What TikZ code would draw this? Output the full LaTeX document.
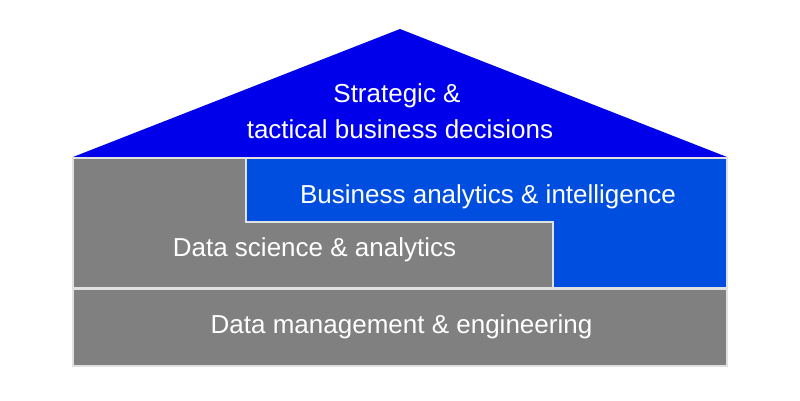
\documentclass[tikz,border=0pt]{standalone}
\usepackage{fontspec}
\setmainfont{Liberation Sans}
\definecolor{roofblue}{RGB}{0,0,235}
\definecolor{biblue}{RGB}{0,78,224}
\definecolor{slate}{RGB}{127,128,127}
\definecolor{edge}{RGB}{225,225,225}
\begin{document}
\begin{tikzpicture}[x=1pt,y=-1pt,
  part/.style={draw=edge,line width=1.5pt,line join=miter},
  lbl/.style={text=white,font=\fontsize{26}{36}\selectfont,anchor=base,inner sep=0pt}]
\useasboundingbox (0,0) rectangle (800,400);
% roof
\fill[roofblue] (73,157) -- (400,29) -- (727,157) -- cycle;
% data science (L shape)
\path[part,fill=slate] (73,158) -- (246,158) -- (246,222) -- (553,222) -- (553,288) -- (73,288) -- cycle;
% business analytics (L shape)
\path[part,fill=biblue] (246,158) -- (727,158) -- (727,288) -- (553,288) -- (553,222) -- (246,222) -- cycle;
% data management
\path[part,fill=slate] (73,289) rectangle (727,366);
\node[lbl] (roof1) at (397,102) {Strategic \&};
\node[lbl] (roof2) at (400,138) {tactical business decisions};
\node[lbl] (bi) at (488,203) {Business analytics \& intelligence};
\node[lbl] (ds) at (314.5,256) {Data science \& analytics};
\node[lbl] (dm) at (401.5,333) {Data management \& engineering};
\end{tikzpicture}
\end{document}
